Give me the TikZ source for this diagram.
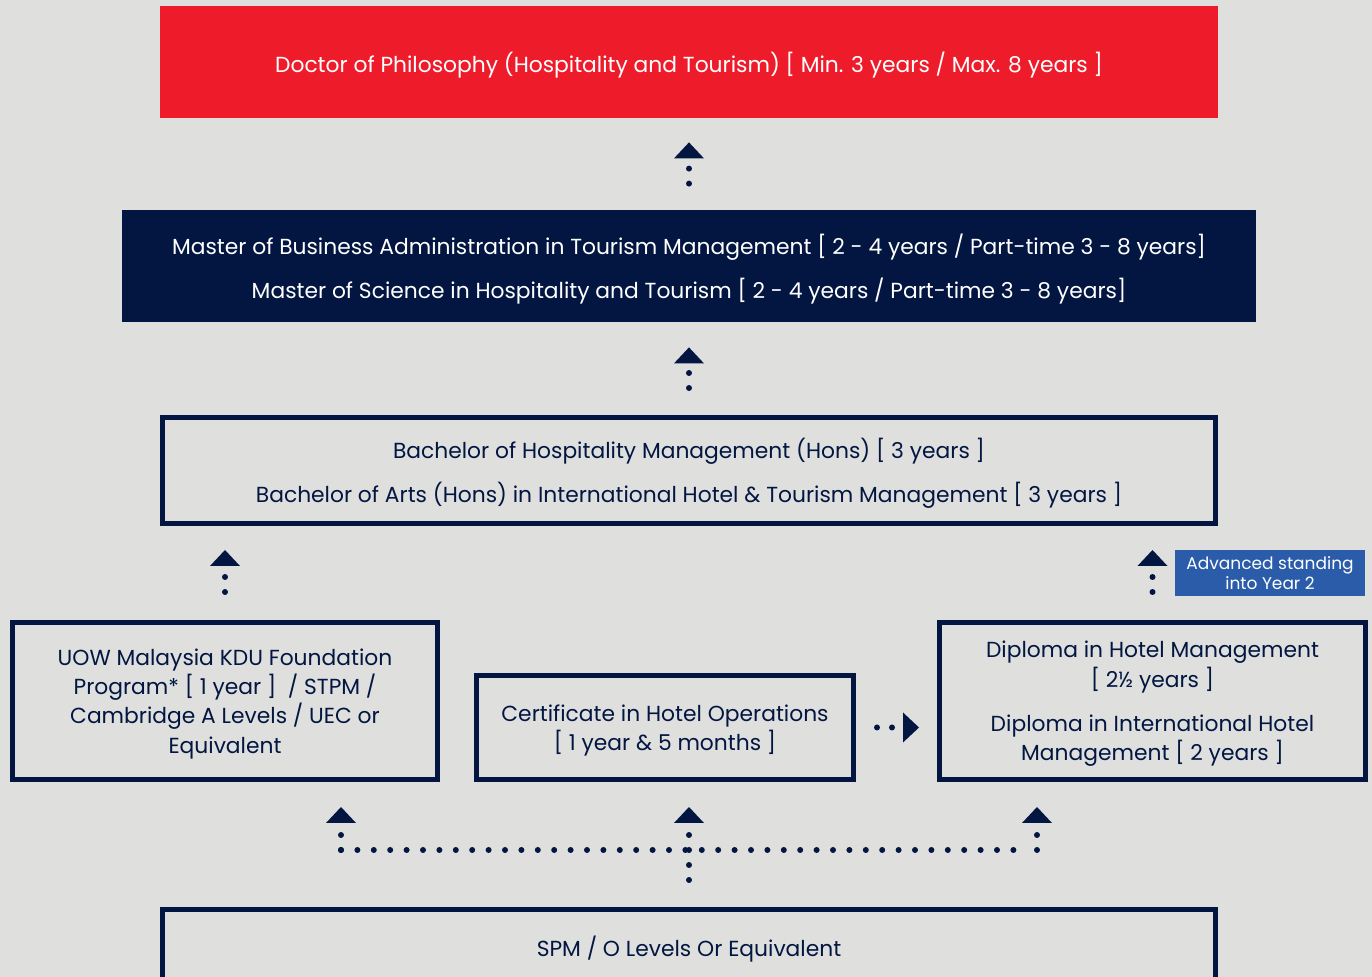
\documentclass[tikz,border=0pt]{standalone}
\usepackage{fontspec}
\setmainfont{Poppins}
\usetikzlibrary{arrows.meta,positioning}
\definecolor{navy}{HTML}{021641}
\definecolor{uowred}{HTML}{EE1C2B}
\definecolor{uowblue}{HTML}{2A5CAA}
\definecolor{paper}{HTML}{DFE0DE}

\begin{document}
\begin{tikzpicture}[
    x=0.5pt,
    y=-0.5pt,
    every node/.style={font=\fontsize{10.9}{14.7}\selectfont, align=center, inner sep=0pt},
    course/.style={text depth=-4.5pt},
    outline/.style={course, draw=navy, line width=2.5pt, text=navy},
    solidbox/.style={course, fill=#1, text=white},
    dotline/.style={navy, line width=3pt, line cap=round, dash pattern=on 0pt off 7.5pt},
    uparrow/.style={dotline, -{Triangle[width=15pt,length=8pt,line width=0pt]}},
    tag/.style={fill=uowblue, text=white, font=\fontsize{8.5}{10}\selectfont}
  ]
    \fill[paper] (0,0) rectangle (1372,977);
    \clip (0,0) rectangle (1372,977);
    % programme boxes
    \node[solidbox=uowred, minimum width=529pt, minimum height=56pt] (phd) at (689,62)
      {Doctor of Philosophy (Hospitality and Tourism) [ Min. 3 years / Max. 8 years ]};
    \node[solidbox=navy, minimum width=567pt, minimum height=56pt] (master) at (689,266)
      {Master of Business Administration in Tourism Management [ 2 - 4 years / Part-time 3 - 8 years]\\[7.3pt]
       Master of Science in Hospitality and Tourism [ 2 - 4 years / Part-time 3 - 8 years]};
    \node[outline, minimum width=526.5pt, minimum height=53pt] (bach) at (689,470.5)
      {Bachelor of Hospitality Management (Hons) [ 3 years ]\\[7.3pt]
       Bachelor of Arts (Hons) in International Hotel \& Tourism Management [ 3 years ]};
    \node[outline, minimum width=212.5pt, minimum height=78.5pt] (found) at (225,701)
      {UOW Malaysia KDU Foundation\\ Program* [ 1 year ] \ / STPM /\\ Cambridge A Levels / UEC or\\ Equivalent};
    \node[outline, minimum width=188.5pt, minimum height=52pt] (cert) at (665,727.5)
      {Certificate in Hotel Operations\\ {[} 1 year \& 5 months {]}};
    \node[outline, minimum width=213pt, minimum height=78.5pt] (dipl) at (1152.5,701)
      {Diploma in Hotel Management\\ {[} 2½ years {]}\\[7.5pt]
       Diploma in International Hotel\\ Management [ 2 years ]};
    % runs past the lower edge
    \node[outline, text depth=3.5pt, minimum width=526.5pt, minimum height=40.5pt] (spm) at (689,950)
      {SPM / O Levels Or Equivalent};
    \node[tag, minimum width=95pt, minimum height=23pt] (adv) at (1270,573)
      {Advanced standing\\ into Year 2};
    % pathways
    \draw[uparrow, shorten <=13pt, shorten >=12pt] (master.north) -- (phd.south);
    \draw[uparrow, shorten <=13.5pt, shorten >=12.5pt] (bach.north) -- (master.south);
    \draw[uparrow, shorten <=14pt, shorten >=12pt] (found.north) -- (found.north |- bach.south);
    \draw[uparrow, shorten <=14pt, shorten >=12pt] (dipl.north) -- (dipl.north |- bach.south);
    \draw[uparrow, shorten <=10.5pt, shorten >=9pt] (cert.east) -- (cert.east -| dipl.west);
    \coordinate (lft) at (341,850);
    \coordinate (rgt) at (1037,850);
    \draw[dotline, dash pattern=on 0pt off 8.2pt, shorten >=11pt] (lft) -- (rgt);
    \draw[uparrow, shorten <=13.5pt, shorten >=12.5pt] (spm.north) -- (spm.north |- cert.south);
    \draw[uparrow, shorten >=12.5pt] (lft) -- (lft |- found.south);
    \draw[uparrow, shorten >=12.5pt] (rgt) -- (rgt |- dipl.south);
\end{tikzpicture}
\end{document}
